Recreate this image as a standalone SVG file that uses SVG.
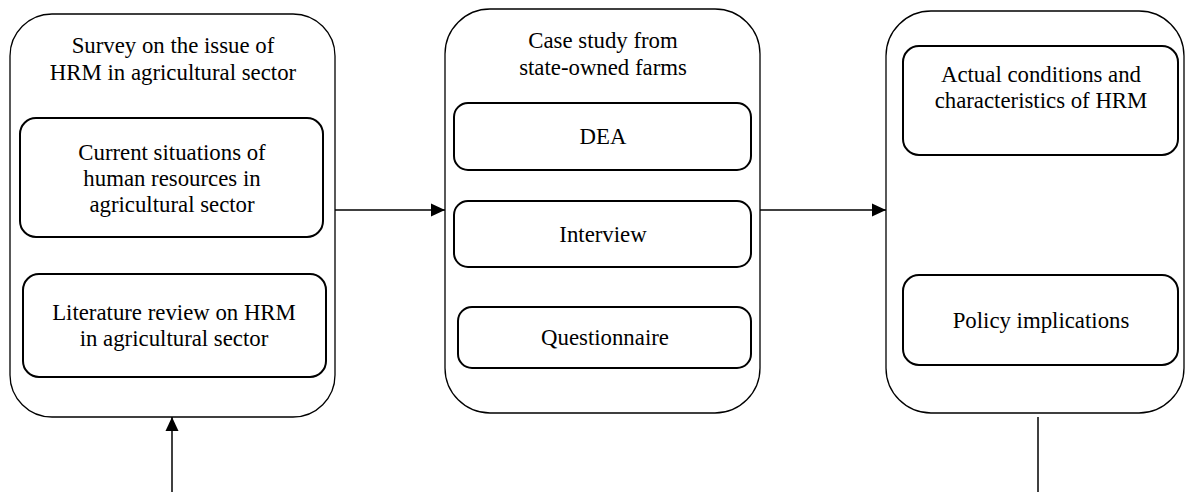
<svg xmlns="http://www.w3.org/2000/svg" width="1185" height="492" viewBox="0 0 1185 492">
<style>
.outer{fill:#fff;stroke:#000;stroke-width:1.3}
.inner{fill:#fff;stroke:#000;stroke-width:2}
text{font-family:"Liberation Serif","Times New Roman",serif;font-size:22.8px;fill:#000;text-anchor:middle}
.conn{stroke:#000;stroke-width:1.5;fill:none}
</style>
<defs>
<marker id="arr" markerWidth="14" markerHeight="14" refX="14" refY="7" orient="auto" markerUnits="userSpaceOnUse">
<path d="M0,0.5 L14,7 L0,13.5 Z" fill="#000"/>
</marker>
</defs>
<g id="survey">
<rect class="outer" x="10" y="14" width="325" height="403" rx="42" ry="42"/>
<text x="173" y="53">Survey on the issue of</text>
<text x="173" y="80">HRM in agricultural sector</text>
</g>
<g id="current">
<rect class="inner" x="20" y="118" width="303" height="119" rx="16" ry="16"/>
<text x="172" y="160">Current situations of</text>
<text x="172" y="186">human resources in</text>
<text x="172" y="212">agricultural sector</text>
</g>
<g id="literature">
<rect class="inner" x="23" y="274" width="303" height="103" rx="16" ry="16"/>
<text x="174" y="320">Literature review on HRM</text>
<text x="174" y="346">in agricultural sector</text>
</g>
<g id="casestudy">
<rect class="outer" x="445" y="9" width="315" height="404" rx="45" ry="45"/>
<text x="603" y="48">Case study from</text>
<text x="603" y="75">state-owned farms</text>
</g>
<g id="dea">
<rect class="inner" x="454" y="103" width="297" height="67" rx="14" ry="14"/>
<text x="603" y="144">DEA</text>
</g>
<g id="interview">
<rect class="inner" x="454" y="201" width="297" height="66" rx="14" ry="14"/>
<text x="603" y="242">Interview</text>
</g>
<g id="questionnaire">
<rect class="inner" x="458" y="307" width="293" height="61" rx="14" ry="14"/>
<text x="605" y="345">Questionnaire</text>
</g>
<g id="results">
<rect class="outer" x="886" y="11" width="298" height="402" rx="45" ry="45"/>
</g>
<g id="actual">
<rect class="inner" x="903" y="46" width="275" height="109" rx="16" ry="16"/>
<text x="1041" y="82">Actual conditions and</text>
<text x="1041" y="108">characteristics of HRM</text>
</g>
<g id="policy">
<rect class="inner" x="903" y="275" width="275" height="90" rx="16" ry="16"/>
<text x="1041" y="328">Policy implications</text>
</g>
<g id="connectors">
<line class="conn" x1="335" y1="210" x2="445" y2="210" marker-end="url(#arr)"/>
<line class="conn" x1="760" y1="210" x2="886" y2="210" marker-end="url(#arr)"/>
<line class="conn" x1="172" y1="492" x2="172" y2="417" marker-end="url(#arr)"/>
<line class="conn" x1="1038" y1="417" x2="1038" y2="492"/>
</g>
</svg>
